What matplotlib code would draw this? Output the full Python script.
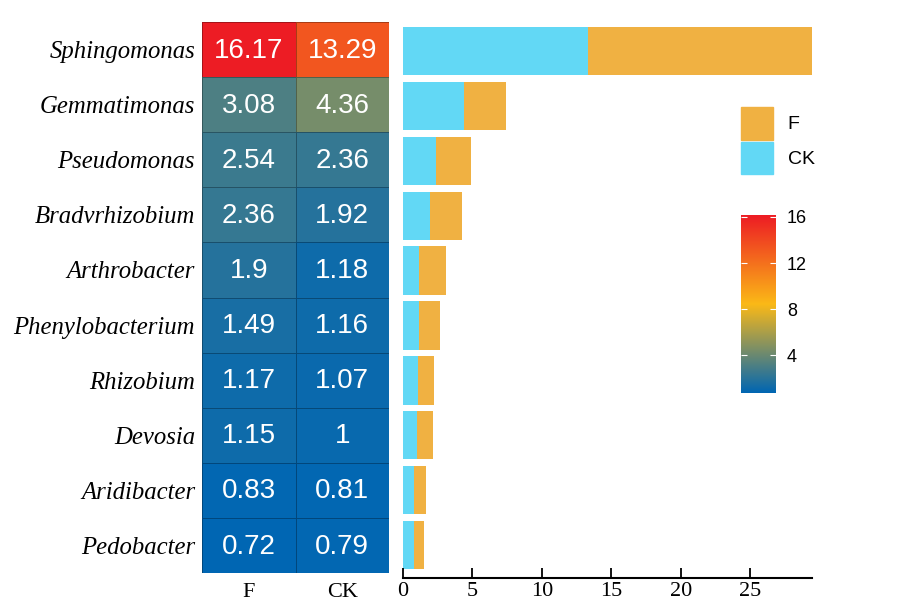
import matplotlib
matplotlib.use("Agg")
import matplotlib.pyplot as plt
import numpy as np
from matplotlib.colors import LinearSegmentedColormap, Normalize
from matplotlib.patches import Patch

genera = ["Sphingomonas", "Gemmatimonas", "Pseudomonas", "Bradvrhizobium", "Arthrobacter",
          "Phenylobacterium", "Rhizobium", "Devosia", "Aridibacter", "Pedobacter"]
groups = ["F", "CK"]
f_vals = [16.17, 3.08, 2.54, 2.36, 1.9, 1.49, 1.17, 1.15, 0.83, 0.72]
ck_vals = [13.29, 4.36, 2.36, 1.92, 1.18, 1.16, 1.07, 1, 0.81, 0.79]
bar_ticks = [0, 5, 10, 15, 20, 25]
cbar_ticks = [4, 8, 12, 16]

serif = ["Liberation Serif", "DejaVu Serif"]
sans = ["Liberation Sans", "DejaVu Sans"]

cmap = LinearSegmentedColormap.from_list("byr", ["#0066b3", "#fbb917", "#ed1c24"])
data = np.array([f_vals, ck_vals]).T
vmin, vmax = data.min(), data.max()
norm = Normalize(vmin=vmin, vmax=vmax)

fig = plt.figure(figsize=(9.08, 6.13), dpi=100)
W, H = 908, 613

def ax_rect(x0, y0, x1, y1):
    return [x0 / W, 1 - y1 / H, (x1 - x0) / W, (y1 - y0) / H]

# Heatmap
axh = fig.add_axes(ax_rect(202, 22, 389, 573))
n = len(genera)
axh.pcolormesh(np.arange(3), np.arange(n + 1), data, cmap=cmap, norm=norm,
               edgecolors=(0, 0, 0, 0.3), linewidth=0.6)
axh.set_xlim(0, 2)
axh.set_ylim(n, 0)
for i in range(n):
    for j in range(2):
        axh.text(j + 0.5, i + 0.52, "{:g}".format(data[i, j]), ha="center", va="center",
                 color="white", fontsize=20, family=sans)
axh.set_yticks(np.arange(n) + 0.5)
axh.set_yticklabels(genera, fontsize=17.8, family=serif, style="italic")
axh.set_xticks([0.5, 1.5])
axh.set_xticklabels(groups, fontsize=16, family=serif)
axh.tick_params(axis="y", length=0, pad=5)
axh.tick_params(axis="x", length=0, pad=7)
for s in axh.spines.values():
    s.set_visible(False)

# Stacked bars
axb = fig.add_axes(ax_rect(403, 22, 812, 578))
ypos = np.arange(n)[::-1]
axb.barh(ypos, ck_vals, height=0.88, color="#62d8f5", label="CK")
axb.barh(ypos, f_vals, left=ck_vals, height=0.88, color="#f0b142", label="F")
axb.set_ylim(-0.6, n - 1 + 0.53)
axb.set_xlim(0, max(np.array(f_vals) + np.array(ck_vals)))
axb.set_xticks(bar_ticks)
axb.set_xticklabels([str(t) for t in bar_ticks], fontsize=16, family=serif)
axb.tick_params(axis="x", direction="in", length=7, width=1.3, pad=3)
axb.set_yticks([])
for s in ["top", "right", "left"]:
    axb.spines[s].set_visible(False)
axb.spines["bottom"].set_linewidth(1.5)

handles = [Patch(color="#f0b142", label="F"), Patch(color="#62d8f5", label="CK")]
leg = fig.legend(handles=handles, loc="upper left", bbox_to_anchor=(741 / W, 1 - 107 / H),
                 frameon=False, prop={"family": sans, "size": 14},
                 handlelength=1.65, handleheight=2.2, labelspacing=0.1, handletextpad=0.75,
                 borderaxespad=0, borderpad=0)

# Colorbar
axc = fig.add_axes(ax_rect(741, 215, 776, 393))
grad = np.linspace(vmin, vmax, 256).reshape(-1, 1)
axc.imshow(grad, aspect="auto", cmap=cmap, norm=norm, origin="lower",
           extent=[0, 1, vmin, vmax])
axc.set_xticks([])
axc.set_yticks(cbar_ticks)
axc.set_yticklabels([str(t) for t in cbar_ticks], fontsize=13, family=sans)
axc.tick_params(axis="y", direction="in", color="white", labelcolor="black", left=True,
                right=True, labelleft=False, labelright=True, length=4, width=0.8, pad=8)
for s in axc.spines.values():
    s.set_visible(False)

fig.savefig("out.png", dpi=100)
